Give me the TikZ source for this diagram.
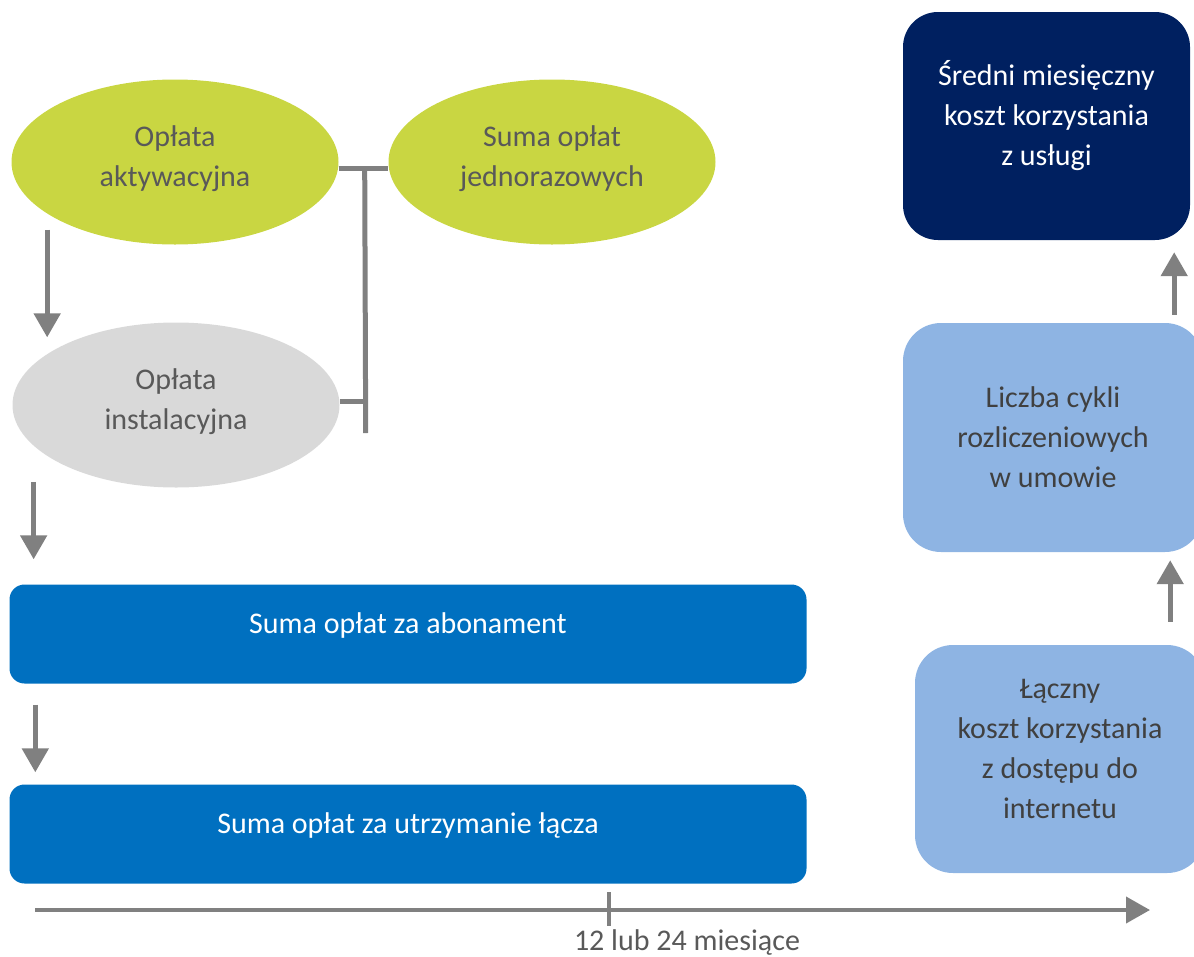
\documentclass[tikz,border=0pt]{standalone}
\usepackage{fontspec}
\setmainfont{Carlito}
\usepackage{tikz}
\usetikzlibrary{arrows.meta,shapes.geometric}

\definecolor{limegreen}{RGB}{201,214,66}
\definecolor{lightgrey}{RGB}{217,217,217}
\definecolor{midblue}{RGB}{0,112,192}
\definecolor{navyblue}{RGB}{0,32,96}
\definecolor{paleblue}{RGB}{142,180,227}
\definecolor{linegrey}{RGB}{128,128,128}
\definecolor{textgrey}{RGB}{89,89,89}
\definecolor{darktext}{RGB}{64,64,64}

\begin{document}
\begin{tikzpicture}[x=1pt,y=-1pt,
    every node/.style={font=\fontsize{30}{40}\selectfont, align=center},
    oval/.style={ellipse, minimum width=327pt, minimum height=165pt, text=textgrey, inner sep=0pt, text depth=11pt},
    bar/.style={rectangle, rounded corners=15pt, fill=midblue, text=white, minimum width=797pt, minimum height=99pt, text depth=22pt},
    card/.style={rectangle, rounded corners=38pt, fill=paleblue, text=darktext, inner sep=0pt},
    line/.style={draw=linegrey, line width=5pt},
    arr/.style={line, -{Triangle[length=24pt,width=26pt]}}]
\useasboundingbox (0,0) rectangle (1194,956);

% left column
\node[oval, fill=limegreen] (act) at (175,162) {Opłata\\aktywacyjna};
\node[oval, fill=limegreen] (sum) at (552,162) {Suma opłat\\jednorazowych};
\node[oval, fill=lightgrey] (inst) at (176,405) {Opłata\\instalacyjna};
\node[bar] (abo) at (408,634) {Suma opłat za abonament};
\node[bar] (ut) at (408,834) {Suma opłat za utrzymanie łącza};

% bracket
\draw[line] ([yshift=-6pt]act.east) -- ([yshift=-6pt]sum.west);
\draw[line] ([xshift=26pt,yshift=-6pt]act.east) -- ([xshift=26pt,yshift=-28pt]inst.east);
\draw[line] ([yshift=4pt]inst.east) -- ([xshift=26pt,yshift=4pt]inst.east);

\draw[arr] ([yshift=-16pt]act.202) -- ([yshift=16pt]act.202 |- inst.158);
\draw[arr] ([yshift=-36pt]inst.196) -- ([yshift=25pt]inst.196 |- abo.north);
\draw[arr] ([xshift=26pt,yshift=-21pt]abo.south west) -- ([xshift=26pt,yshift=12pt]ut.north west);

% right column
\node[card, fill=navyblue, text=white, rounded corners=35pt, minimum width=287pt, minimum height=228pt, text depth=27pt] (avg) at (1046.5,126) {Średni miesięczny\\koszt korzystania\\z usługi};
\node[card, minimum width=300pt, minimum height=229pt] (cykle) at (1053,437.5) {Liczba cykli\\rozliczeniowych\\w umowie};
\node[card, minimum width=290pt, minimum height=228pt, text depth=20pt] (laczny) at (1060,759) {Łączny\\koszt korzystania\\z dostępu do\\internetu};

\draw[arr] ([xshift=-16pt,yshift=8pt]avg.east |- cykle.north) -- ([xshift=-16pt,yshift=-12pt]avg.south east);
\draw[arr] ([xshift=-20pt,yshift=23pt]avg.east |- laczny.north) -- ([xshift=-20pt,yshift=-8pt]avg.east |- cykle.south);

% time axis
\coordinate (t0) at (35,910);
\coordinate (t1) at (1150,910);
\draw[arr, line width=4pt] (t0) -- (t1);
\draw[line, line width=4pt] (609,892) -- (609,926) node[below=-2pt, text=textgrey, xshift=78pt] (span) {12 lub 24 miesiące};
\end{tikzpicture}
\end{document}
